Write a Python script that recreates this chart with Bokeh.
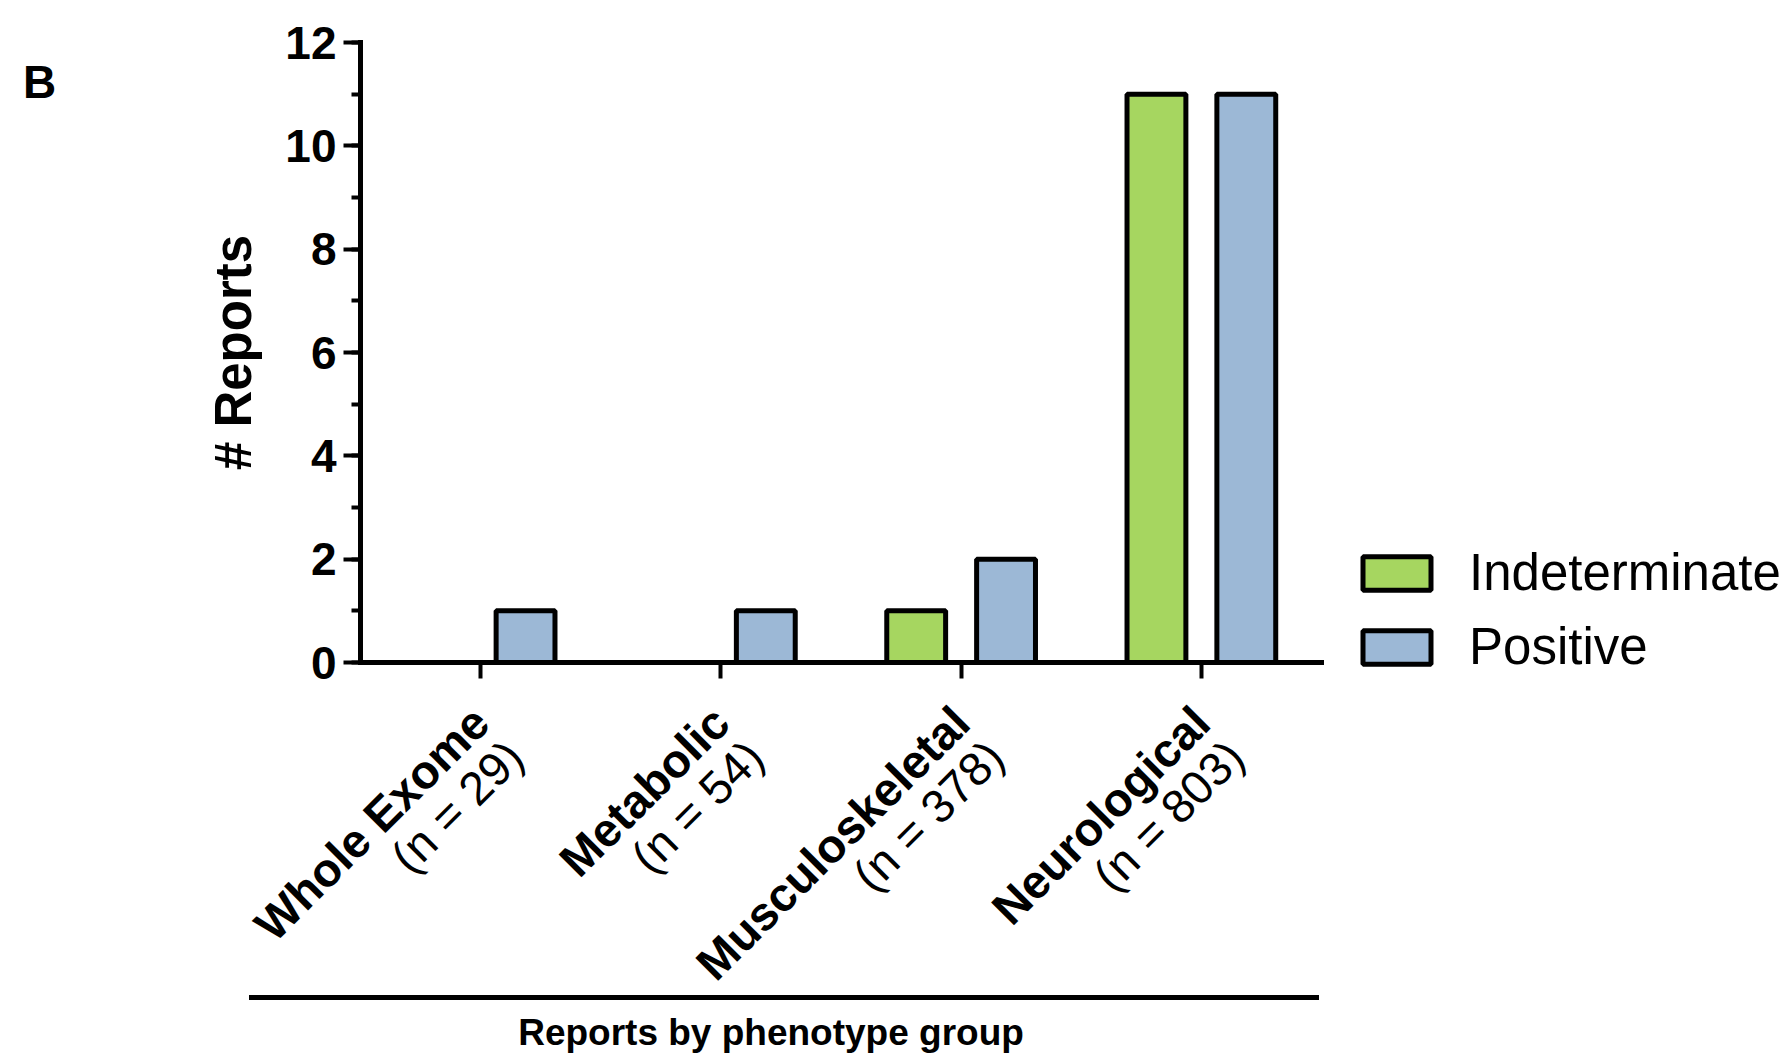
import math
from bokeh.plotting import figure
from bokeh.models import (Range1d, SingleIntervalTicker, FixedTicker, Label, Legend,
                          LegendItem, Div, ColumnDataSource, CustomJSTickFormatter)
from bokeh.layouts import column, row
from bokeh.embed import file_html
from bokeh.resources import INLINE

# ---- data ----
categories = ["Whole Exome", "Metabolic", "Musculoskeletal", "Neurological"]
group_sizes = [29, 54, 378, 803]
indeterminate = [0, 0, 1, 11]
positive = [1, 1, 2, 11]
series_names = ["Indeterminate", "Positive"]
y_label = "# Reports"
x_title = "Reports by phenotype group"
panel_letter = "B"
y_max = 12

FONT = "Liberation Sans"
GREEN = "#a6d660"
BLUE = "#9cb8d6"

# ---- layout constants (pixels) ----
LEFT_DIV_W = 60
P_W, P_H = 1725, 995
FRAME_LEFT = LEFT_DIV_W + 100          # page x of the plotting frame's left edge
FRAME_RIGHT = LEFT_DIV_W + P_W
AXIS_X, CAT_W = 360, 240.25            # page x of the y axis, pixels per category
FRAME_TOP, TOP_PX, ZERO_PX, FRAME_BOTTOM = 8, 42, 662, P_H
PPU = (ZERO_PX - TOP_PX) / y_max
# ranges chosen so that the frame covers the label areas (annotations are clipped to it)
x_lo = -(AXIS_X - FRAME_LEFT) / CAT_W
x_hi = (FRAME_RIGHT - AXIS_X) / CAT_W
y_lo = -(FRAME_BOTTOM - ZERO_PX) / PPU
y_hi = y_max + (TOP_PX - FRAME_TOP) / PPU

n_cat = len(categories)
centers = [i + 0.5 for i in range(n_cat)]
OFF, BW = 0.187, 0.245

p = figure(x_range=Range1d(x_lo, x_hi), y_range=Range1d(y_lo, y_hi),
           width=P_W, height=P_H, output_backend="svg", toolbar_location=None,
           x_axis_location="above", y_axis_location="left",
           min_border_left=FRAME_LEFT - LEFT_DIV_W, min_border_right=0,
           min_border_top=FRAME_TOP, min_border_bottom=0)
p.outline_line_color = None
p.grid.visible = False
p.background_fill_color = "white"
p.border_fill_color = "white"

src = ColumnDataSource(dict(
    x_ind=[c - OFF for c in centers], x_pos=[c + OFF for c in centers],
    ind=indeterminate, pos=positive))
r1 = p.vbar(x="x_ind", top="ind", width=BW, source=src,
            fill_color=GREEN, line_color="black", line_width=5)
r2 = p.vbar(x="x_pos", top="pos", width=BW, source=src,
            fill_color=BLUE, line_color="black", line_width=5)

# y axis, pinned at x = 0
ya = p.yaxis[0]
ya.fixed_location = 0
ya.bounds = (0, y_max)
ya.ticker = SingleIntervalTicker(interval=2, num_minor_ticks=2)
ya.axis_line_width = 5
ya.axis_line_cap = "square"
ya.major_tick_line_width = 4
ya.minor_tick_line_width = 4
ya.major_tick_out = 17
ya.major_tick_in = 0
ya.minor_tick_out = 9
ya.minor_tick_in = 0
ya.major_label_standoff = 7
ya.major_label_text_font = FONT
ya.major_label_text_font_style = "bold"
ya.major_label_text_font_size = "46px"
ya.major_label_text_color = "black"

# x axis, pinned at y = 0, ticks pointing down
xa = p.xaxis[0]
xa.fixed_location = 0
xa.bounds = (0, n_cat)
xa.ticker = FixedTicker(ticks=centers, minor_ticks=[])
xa.axis_line_width = 5
xa.axis_line_cap = "square"
xa.major_tick_line_width = 4
xa.major_tick_out = 0
xa.major_tick_in = 16
xa.minor_tick_line_color = None
xa.major_label_standoff = 0
xa.major_label_text_font_size = "1px"
xa.formatter = CustomJSTickFormatter(code="return ''")

# y axis title
p.add_layout(Label(x=0, y=y_max / 2, x_offset=-(AXIS_X - 233), y_offset=0, text=y_label,
                   angle=math.pi / 2, text_align="center", text_baseline="middle",
                   text_font=FONT, text_font_style="bold", text_font_size="51px",
                   text_color="black"))

# two-line rotated category labels
for c, cat, n in zip(centers, categories, group_sizes):
    p.add_layout(Label(x=c, y=0, x_offset=0, y_offset=-52, text=cat,
                       angle=math.pi / 4, text_align="right", text_baseline="middle",
                       text_font=FONT, text_font_style="bold", text_font_size="47px",
                       text_color="black"))
    p.add_layout(Label(x=c, y=0, x_offset=34, y_offset=-86, text=f"(n = {n})",
                       angle=math.pi / 4, text_align="right", text_baseline="middle",
                       text_font=FONT, text_font_style="normal", text_font_size="47px",
                       text_color="black"))

legend = Legend(items=[LegendItem(label=series_names[0], renderers=[r1]),
                       LegendItem(label=series_names[1], renderers=[r2])],
                location=(1354 - FRAME_LEFT, 319), padding=0, margin=0, spacing=15,
                glyph_width=85, glyph_height=42, label_standoff=30,
                label_text_font=FONT, label_text_font_size="51px",
                label_text_color="black", border_line_color=None,
                background_fill_alpha=0)
p.add_layout(legend)

div_b = Div(width=LEFT_DIV_W, height=P_H, margin=0, text=(
    f'<div style="position:relative;width:{LEFT_DIV_W}px;height:{P_H}px;">'
    '<div style="position:absolute;left:23px;top:59px;'
    "font-family:'Liberation Sans';font-weight:bold;font-size:46px;line-height:46px;"
    f'color:black;">{panel_letter}</div></div>'))

T_H = 61
div_t = Div(width=P_W, height=T_H, margin=0, text=(
    f'<div style="position:relative;width:{P_W}px;height:{T_H}px;overflow:hidden;">'
    f'<div style="position:absolute;left:{249 - LEFT_DIV_W}px;top:0px;width:1070px;height:0;'
    'border-top:5px solid black;"></div>'
    f'<div style="position:absolute;left:{236 - LEFT_DIV_W}px;top:19px;width:1070px;'
    "text-align:center;font-family:'Liberation Sans';font-weight:bold;font-size:37px;"
    f'line-height:37px;color:black;white-space:nowrap;">{x_title}</div></div>'))

layout = row(div_b, column(p, div_t, spacing=0), spacing=0)
open("out.html", "w").write(file_html(layout, INLINE))
